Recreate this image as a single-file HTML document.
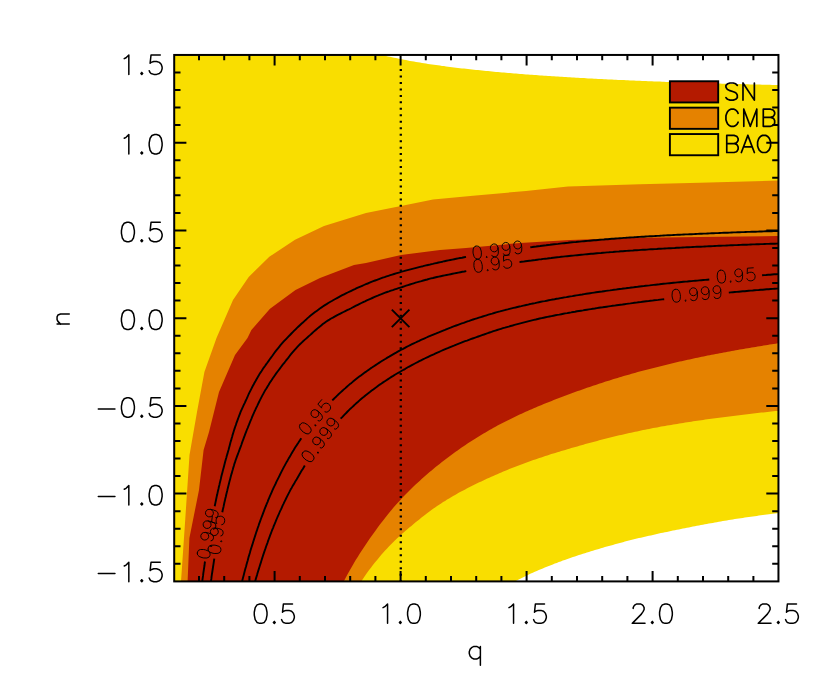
<!DOCTYPE html>
<html><head><meta charset="utf-8"><title>contour</title>
<style>html,body{margin:0;padding:0;background:#fff;font-family:"Liberation Sans",sans-serif}svg{display:block}</style></head><body>
<svg width="830" height="692" viewBox="0 0 830 692">
<rect width="830" height="692" fill="#fff"/>
<defs><clipPath id="c"><rect x="174.20" y="54.95" width="604.25" height="526.45"/></clipPath></defs>
<g clip-path="url(#c)">
<path fill="#f9de00" d="M174.2 55.0 L380.0 54.4 L382.0 54.9 L384.0 55.4 L386.0 55.9 L388.0 56.4 L390.0 56.8 L392.0 57.3 L394.0 57.7 L396.0 58.1 L398.0 58.5 L400.0 58.9 L402.0 59.3 L404.0 59.7 L406.0 60.1 L408.0 60.5 L410.0 60.9 L412.0 61.2 L414.0 61.6 L416.0 61.9 L418.0 62.2 L420.0 62.6 L422.0 62.9 L424.0 63.2 L426.0 63.5 L428.0 63.9 L430.0 64.2 L432.0 64.5 L434.0 64.7 L436.0 65.0 L438.0 65.3 L440.0 65.6 L442.0 65.9 L444.0 66.1 L446.0 66.4 L448.0 66.7 L450.0 66.9 L452.0 67.2 L454.0 67.4 L456.0 67.7 L458.0 67.9 L460.0 68.2 L462.0 68.4 L464.0 68.6 L466.0 68.8 L468.0 69.1 L470.0 69.3 L472.0 69.5 L474.0 69.7 L476.0 69.9 L478.0 70.1 L480.0 70.3 L482.0 70.5 L484.0 70.7 L486.0 70.9 L488.0 71.1 L490.0 71.3 L492.0 71.5 L494.0 71.7 L496.0 71.9 L498.0 72.1 L500.0 72.2 L502.0 72.4 L504.0 72.6 L506.0 72.8 L508.0 72.9 L510.0 73.1 L512.0 73.3 L514.0 73.4 L516.0 73.6 L518.0 73.8 L520.0 73.9 L522.0 74.1 L524.0 74.2 L526.0 74.4 L528.0 74.5 L530.0 74.7 L532.0 74.8 L534.0 75.0 L536.0 75.1 L538.0 75.3 L540.0 75.4 L542.0 75.5 L544.0 75.7 L546.0 75.8 L548.0 75.9 L550.0 76.1 L552.0 76.2 L554.0 76.3 L556.0 76.5 L558.0 76.6 L560.0 76.7 L562.0 76.8 L564.0 77.0 L566.0 77.1 L568.0 77.2 L570.0 77.3 L572.0 77.5 L574.0 77.6 L576.0 77.7 L578.0 77.8 L580.0 77.9 L582.0 78.0 L584.0 78.1 L586.0 78.3 L588.0 78.4 L590.0 78.5 L592.0 78.6 L594.0 78.7 L596.0 78.8 L598.0 78.9 L600.0 79.0 L602.0 79.1 L604.0 79.2 L606.0 79.3 L608.0 79.4 L610.0 79.5 L612.0 79.6 L614.0 79.7 L616.0 79.8 L618.0 79.9 L620.0 80.0 L622.0 80.0 L624.0 80.1 L626.0 80.2 L628.0 80.3 L630.0 80.4 L632.0 80.5 L634.0 80.6 L636.0 80.7 L638.0 80.8 L640.0 80.8 L642.0 80.9 L644.0 81.0 L646.0 81.1 L648.0 81.2 L650.0 81.2 L652.0 81.3 L654.0 81.4 L656.0 81.5 L658.0 81.6 L660.0 81.6 L662.0 81.7 L664.0 81.8 L666.0 81.9 L668.0 81.9 L670.0 82.0 L672.0 82.1 L674.0 82.1 L676.0 82.2 L678.0 82.3 L680.0 82.4 L682.0 82.4 L684.0 82.5 L686.0 82.6 L688.0 82.6 L690.0 82.7 L692.0 82.8 L694.0 82.8 L696.0 82.9 L698.0 82.9 L700.0 83.0 L702.0 83.1 L704.0 83.1 L706.0 83.2 L708.0 83.2 L710.0 83.3 L712.0 83.4 L714.0 83.4 L716.0 83.5 L718.0 83.5 L720.0 83.6 L722.0 83.7 L724.0 83.7 L726.0 83.8 L728.0 83.8 L730.0 83.9 L732.0 83.9 L734.0 84.0 L736.0 84.0 L738.0 84.1 L740.0 84.1 L742.0 84.2 L744.0 84.2 L746.0 84.3 L748.0 84.3 L750.0 84.4 L752.0 84.4 L754.0 84.5 L756.0 84.5 L758.0 84.6 L760.0 84.6 L762.0 84.7 L764.0 84.7 L766.0 84.8 L768.0 84.8 L770.0 84.8 L772.0 84.9 L774.0 84.9 L776.0 85.0 L778.0 85.0 L780.4 85.1 L780.5 512.8 L778.9 513.0 L776.9 513.3 L774.9 513.5 L772.9 513.8 L770.9 514.0 L768.9 514.3 L766.9 514.6 L764.8 514.8 L762.8 515.1 L760.8 515.3 L758.8 515.6 L756.8 515.9 L754.8 516.2 L752.8 516.5 L750.8 516.7 L748.8 517.0 L746.8 517.3 L744.8 517.6 L742.8 517.9 L740.8 518.2 L738.8 518.5 L736.8 518.8 L734.8 519.1 L732.8 519.5 L730.8 519.8 L728.8 520.1 L726.8 520.4 L724.8 520.8 L722.8 521.1 L720.8 521.5 L718.8 521.8 L716.8 522.2 L714.8 522.5 L712.8 522.9 L710.8 523.2 L708.8 523.6 L706.8 524.0 L704.9 524.3 L702.9 524.7 L700.9 525.1 L698.9 525.5 L696.9 525.8 L694.9 526.2 L692.9 526.6 L690.9 527.0 L688.9 527.4 L686.9 527.8 L684.9 528.2 L682.9 528.6 L680.9 529.0 L678.9 529.4 L676.9 529.8 L674.9 530.2 L672.9 530.6 L670.9 531.0 L668.9 531.4 L666.9 531.9 L664.9 532.3 L662.9 532.7 L660.9 533.1 L658.9 533.6 L656.9 534.0 L654.9 534.5 L652.9 534.9 L650.9 535.4 L648.9 535.8 L646.9 536.3 L644.9 536.7 L642.9 537.2 L640.9 537.7 L638.9 538.1 L636.9 538.6 L634.9 539.1 L632.9 539.6 L630.9 540.1 L628.9 540.6 L626.9 541.1 L624.9 541.6 L622.9 542.2 L620.9 542.7 L618.9 543.2 L616.9 543.8 L614.9 544.3 L612.9 544.9 L610.9 545.4 L608.9 546.0 L606.9 546.5 L604.9 547.1 L602.9 547.7 L600.9 548.3 L598.9 548.9 L596.9 549.5 L594.9 550.1 L592.9 550.7 L590.9 551.3 L588.9 551.9 L586.9 552.5 L584.9 553.2 L582.9 553.8 L580.9 554.5 L578.9 555.1 L576.9 555.8 L574.9 556.5 L572.9 557.1 L570.9 557.8 L568.9 558.5 L566.8 559.2 L564.8 559.9 L562.8 560.6 L560.8 561.4 L558.8 562.1 L556.8 562.9 L554.8 563.6 L552.8 564.4 L550.8 565.2 L548.8 565.9 L546.8 566.8 L544.8 567.6 L542.8 568.4 L540.8 569.2 L538.8 570.1 L536.8 570.9 L534.8 571.8 L532.8 572.7 L530.8 573.6 L528.8 574.5 L526.8 575.5 L524.8 576.4 L522.8 577.4 L520.8 578.4 L518.8 579.4 L516.8 580.4 L514.8 581.4 L512.9 582.4 L174.2 581.4Z"/>
<path fill="#e58200" d="M181.0 581.4 L185.2 520.0 L189.5 455.0 L197.0 412.0 L204.4 372.0 L216.5 338.0 L233.0 300.0 L248.7 277.0 L269.3 256.8 L295.0 239.8 L324.0 226.0 L366.0 213.0 L401.0 206.0 L433.0 199.4 L473.0 195.7 L526.0 191.0 L568.0 186.5 L640.0 184.3 L700.0 182.8 L778.5 180.6 L780.5 410.5 L779.3 410.7 L777.3 410.9 L775.3 411.1 L773.3 411.3 L771.3 411.5 L769.3 411.7 L767.3 411.9 L765.3 412.2 L763.3 412.4 L761.3 412.6 L759.3 412.8 L757.3 413.0 L755.3 413.3 L753.3 413.5 L751.3 413.7 L749.3 414.0 L747.3 414.2 L745.3 414.4 L743.2 414.7 L741.2 414.9 L739.2 415.2 L737.2 415.4 L735.2 415.7 L733.2 415.9 L731.2 416.2 L729.2 416.4 L727.2 416.7 L725.2 416.9 L723.2 417.2 L721.2 417.4 L719.2 417.7 L717.2 418.0 L715.2 418.2 L713.2 418.5 L711.2 418.8 L709.2 419.0 L707.2 419.3 L705.2 419.6 L703.2 419.9 L701.2 420.2 L699.2 420.5 L697.2 420.7 L695.2 421.0 L693.2 421.3 L691.2 421.7 L689.2 422.0 L687.2 422.3 L685.2 422.6 L683.2 422.9 L681.2 423.2 L679.2 423.6 L677.2 423.9 L675.2 424.2 L673.2 424.6 L671.2 424.9 L669.2 425.2 L667.1 425.6 L665.1 425.9 L663.1 426.3 L661.1 426.6 L659.1 427.0 L657.1 427.4 L655.1 427.7 L653.1 428.1 L651.1 428.5 L649.1 428.9 L647.1 429.3 L645.1 429.7 L643.1 430.1 L641.1 430.5 L639.1 431.0 L637.1 431.4 L635.1 431.8 L633.1 432.2 L631.1 432.7 L629.2 433.1 L627.2 433.5 L625.2 434.0 L623.2 434.4 L621.2 434.9 L619.2 435.3 L617.2 435.8 L615.2 436.3 L613.2 436.8 L611.2 437.3 L609.2 437.8 L607.2 438.3 L605.2 438.8 L603.2 439.3 L601.2 439.8 L599.2 440.3 L597.2 440.9 L595.2 441.4 L593.3 442.0 L591.3 442.5 L589.3 443.0 L587.3 443.6 L585.3 444.1 L583.3 444.7 L581.3 445.3 L579.3 445.8 L577.3 446.4 L575.3 447.0 L573.3 447.6 L571.3 448.1 L569.3 448.7 L567.3 449.3 L565.3 449.9 L563.3 450.5 L561.3 451.1 L559.3 451.7 L557.3 452.3 L555.3 452.9 L553.3 453.5 L551.3 454.1 L549.3 454.7 L547.3 455.4 L545.3 456.0 L543.3 456.7 L541.3 457.4 L539.3 458.0 L537.3 458.7 L535.3 459.4 L533.3 460.1 L531.3 460.8 L529.3 461.5 L527.3 462.2 L525.3 462.9 L523.3 463.7 L521.3 464.4 L519.3 465.2 L517.3 466.0 L515.3 466.7 L513.3 467.5 L511.3 468.3 L509.3 469.1 L507.3 469.9 L505.3 470.8 L503.3 471.6 L501.3 472.4 L499.3 473.3 L497.3 474.2 L495.3 475.0 L493.3 475.9 L491.3 476.8 L489.3 477.7 L487.3 478.6 L485.3 479.5 L483.3 480.4 L481.3 481.4 L479.3 482.3 L477.2 483.3 L475.2 484.3 L473.2 485.3 L471.2 486.3 L469.2 487.3 L467.2 488.3 L465.2 489.4 L463.2 490.4 L461.1 491.5 L459.1 492.6 L457.1 493.7 L455.1 494.9 L453.1 496.0 L451.1 497.2 L449.1 498.4 L447.1 499.6 L445.1 500.9 L443.1 502.1 L441.1 503.4 L439.1 504.7 L437.1 506.1 L435.1 507.4 L433.1 508.8 L431.1 510.3 L429.1 511.7 L427.1 513.2 L425.2 514.7 L423.2 516.2 L421.2 517.8 L419.3 519.4 L417.3 521.0 L415.3 522.6 L413.3 524.3 L411.4 525.9 L409.3 527.6 L407.3 529.3 L405.3 531.1 L403.3 532.8 L401.2 534.6 L399.2 536.5 L397.2 538.3 L395.1 540.3 L393.1 542.2 L391.1 544.3 L389.1 546.3 L387.1 548.5 L385.1 550.6 L383.1 552.8 L381.1 555.1 L379.1 557.5 L377.1 559.9 L375.1 562.3 L373.1 564.8 L371.1 567.4 L369.1 570.0 L367.1 572.8 L365.2 575.5 L363.2 578.4 L361.2 581.4 L359.2 584.4Z"/>
<path fill="#b41a00" d="M187.6 581.4 L189.4 538.0 L199.0 490.0 L203.6 450.0 L209.0 432.0 L219.0 392.0 L235.0 355.0 L247.5 338.0 L251.4 330.0 L270.0 308.7 L295.5 290.0 L320.0 278.0 L354.0 265.0 L366.0 263.0 L401.0 255.0 L440.0 250.0 L466.0 248.0 L520.0 243.0 L570.0 240.0 L626.0 238.0 L700.0 237.0 L778.5 236.0 L780.5 342.9 L777.6 343.3 L775.6 343.7 L773.6 344.0 L771.6 344.3 L769.6 344.6 L767.6 344.9 L765.6 345.2 L763.6 345.6 L761.6 345.9 L759.6 346.2 L757.6 346.5 L755.6 346.9 L753.6 347.2 L751.6 347.5 L749.6 347.9 L747.6 348.2 L745.6 348.6 L743.6 348.9 L741.6 349.3 L739.6 349.6 L737.6 350.0 L735.6 350.3 L733.6 350.7 L731.6 351.1 L729.6 351.4 L727.6 351.8 L725.6 352.2 L723.6 352.5 L721.6 352.9 L719.6 353.3 L717.6 353.7 L715.6 354.1 L713.6 354.4 L711.6 354.8 L709.6 355.2 L707.6 355.6 L705.6 356.0 L703.6 356.4 L701.6 356.8 L699.6 357.3 L697.6 357.7 L695.6 358.1 L693.6 358.5 L691.6 358.9 L689.6 359.4 L687.6 359.8 L685.6 360.3 L683.6 360.7 L681.6 361.2 L679.6 361.6 L677.6 362.1 L675.6 362.5 L673.6 363.0 L671.6 363.5 L669.6 363.9 L667.6 364.4 L665.6 364.9 L663.6 365.4 L661.6 365.9 L659.6 366.4 L657.6 366.9 L655.6 367.4 L653.6 367.9 L651.6 368.4 L649.6 368.9 L647.6 369.4 L645.6 370.0 L643.6 370.5 L641.6 371.0 L639.6 371.6 L637.6 372.1 L635.6 372.7 L633.6 373.3 L631.6 373.8 L629.6 374.4 L627.6 375.0 L625.6 375.5 L623.6 376.1 L621.6 376.7 L619.6 377.3 L617.6 377.9 L615.6 378.5 L613.6 379.1 L611.6 379.7 L609.6 380.4 L607.6 381.0 L605.7 381.6 L603.7 382.3 L601.7 382.9 L599.7 383.6 L597.7 384.2 L595.7 384.9 L593.7 385.6 L591.7 386.2 L589.7 386.9 L587.7 387.6 L585.7 388.3 L583.7 389.0 L581.7 389.7 L579.7 390.4 L577.7 391.1 L575.7 391.8 L573.7 392.5 L571.7 393.3 L569.7 394.0 L567.7 394.7 L565.7 395.5 L563.7 396.2 L561.7 397.0 L559.7 397.7 L557.7 398.5 L555.7 399.3 L553.7 400.1 L551.7 400.9 L549.7 401.7 L547.7 402.5 L545.7 403.3 L543.7 404.1 L541.7 404.9 L539.7 405.7 L537.7 406.6 L535.7 407.4 L533.7 408.3 L531.7 409.2 L529.6 410.0 L527.6 410.9 L525.6 411.8 L523.6 412.7 L521.6 413.7 L519.6 414.6 L517.6 415.5 L515.6 416.5 L513.6 417.4 L511.6 418.4 L509.6 419.4 L507.5 420.4 L505.5 421.4 L503.5 422.5 L501.5 423.5 L499.5 424.6 L497.5 425.6 L495.5 426.7 L493.5 427.8 L491.5 428.9 L489.5 430.1 L487.5 431.2 L485.5 432.4 L483.5 433.5 L481.5 434.7 L479.5 436.0 L477.5 437.2 L475.5 438.4 L473.5 439.7 L471.5 441.0 L469.5 442.3 L467.5 443.6 L465.5 444.9 L463.6 446.3 L461.6 447.6 L459.6 449.0 L457.6 450.4 L455.6 451.8 L453.6 453.3 L451.6 454.7 L449.6 456.2 L447.6 457.7 L445.6 459.2 L443.6 460.8 L441.6 462.3 L439.6 463.9 L437.6 465.5 L435.6 467.1 L433.6 468.7 L431.6 470.4 L429.6 472.1 L427.6 473.8 L425.6 475.5 L423.6 477.3 L421.6 479.1 L419.6 480.9 L417.6 482.7 L415.6 484.6 L413.5 486.5 L411.5 488.5 L409.5 490.4 L407.5 492.5 L405.5 494.5 L403.5 496.6 L401.5 498.7 L399.5 500.9 L397.5 503.1 L395.5 505.3 L393.5 507.6 L391.5 509.9 L389.6 512.3 L387.6 514.7 L385.6 517.2 L383.7 519.7 L381.7 522.2 L379.7 524.8 L377.7 527.5 L375.8 530.2 L373.8 532.9 L371.8 535.7 L369.8 538.6 L367.8 541.5 L365.8 544.4 L363.8 547.4 L361.8 550.5 L359.8 553.6 L357.7 556.9 L355.7 560.1 L353.7 563.5 L351.7 566.9 L349.7 570.4 L347.7 574.0 L345.7 577.7 L343.7 581.4 L341.6 585.3Z"/>
<g fill="none" stroke="#000" stroke-width="1.9" stroke-linejoin="round">
<path d="M200.8 593.2 L201.0 591.2 L201.3 589.2 L201.5 587.3 L201.8 585.3 L202.0 583.3 L202.3 581.3 L202.5 579.3 L202.8 577.3 L203.1 575.4 L203.3 573.4 L203.6 571.4 L203.9 569.4 L204.2 567.4 L204.5 565.5 L204.7 563.5 L205.0 561.5"/>
<path d="M214.7 506.3 L215.1 504.4 L215.5 502.4 L215.9 500.5 L216.3 498.5 L216.7 496.6 L217.2 494.6 L217.6 492.6 L218.0 490.7 L218.5 488.7 L218.9 486.8 L219.4 484.9 L219.8 482.9 L220.3 481.0 L220.8 479.0 L221.2 477.1 L221.7 475.1 L222.2 473.2 L222.7 471.3 L223.2 469.3 L223.7 467.4 L224.2 465.4 L224.7 463.5 L225.2 461.6 L225.7 459.7 L226.3 457.7 L226.8 455.8 L227.4 453.9 L227.9 452.0 L228.5 450.0 L229.0 448.1 L229.5 446.2 L230.0 444.2 L230.5 442.3 L231.1 440.4 L231.6 438.5 L232.2 436.5 L232.7 434.6 L233.3 432.7 L233.9 430.8 L234.5 428.9 L235.1 427.0 L235.8 425.1 L236.4 423.2 L237.1 421.3 L237.8 419.4 L238.5 417.5 L239.2 415.7 L239.9 413.8 L240.6 411.9 L241.4 410.1 L242.2 408.3 L243.1 406.4 L243.9 404.6 L244.8 402.8 L245.6 401.0 L246.5 399.2 L247.3 397.4 L248.1 395.5 L248.9 393.7 L249.8 391.9 L250.7 390.1 L251.6 388.3 L252.5 386.5 L253.5 384.8 L254.4 383.0 L255.4 381.3 L256.4 379.5 L257.4 377.8 L258.4 376.1 L259.4 374.3 L260.5 372.6 L261.6 371.0 L262.7 369.3 L263.8 367.6 L265.0 366.0 L266.1 364.4 L267.3 362.8 L268.5 361.1 L269.6 359.5 L270.8 357.9 L272.0 356.3 L273.1 354.7 L274.3 353.0 L275.5 351.4 L276.7 349.9 L278.0 348.3 L279.2 346.8 L280.5 345.2 L281.8 343.7 L283.1 342.2 L284.5 340.7 L285.8 339.3 L287.2 337.8 L288.6 336.4 L290.0 335.0 L291.4 333.5 L292.8 332.1 L294.2 330.7 L295.6 329.3 L297.0 327.9 L298.5 326.5 L299.9 325.2 L301.4 323.8 L302.9 322.5 L304.4 321.1 L305.9 319.8 L307.3 318.4 L308.8 317.1 L310.3 315.8 L311.9 314.5 L313.5 313.3 L315.1 312.1 L316.7 310.9 L318.3 309.7 L319.9 308.5 L321.6 307.4 L323.2 306.3 L324.9 305.1 L326.6 304.1 L328.3 303.0 L330.0 302.0 L331.8 301.0 L333.5 300.0 L335.3 299.0 L337.0 298.1 L338.8 297.1 L340.5 296.2 L342.3 295.2 L344.1 294.3 L345.9 293.4 L347.7 292.5 L349.5 291.7 L351.3 290.8 L353.1 289.9 L354.9 289.1 L356.7 288.2 L358.5 287.4 L360.4 286.6 L362.2 285.8 L364.0 285.0 L365.9 284.2 L367.7 283.5 L369.6 282.7 L371.4 281.9 L373.3 281.2 L375.1 280.5 L377.0 279.8 L378.9 279.1 L380.8 278.4 L382.7 277.7 L384.6 277.1 L386.5 276.4 L388.4 275.8 L390.3 275.2 L392.2 274.6 L394.1 274.0 L396.0 273.4 L397.9 272.8 L399.8 272.3 L401.7 271.7 L403.7 271.2 L405.6 270.6 L407.5 270.1 L409.5 269.6 L411.4 269.1 L413.3 268.6 L415.3 268.1 L417.2 267.6 L419.1 267.1 L421.1 266.6 L423.0 266.2 L425.0 265.7 L426.9 265.2 L428.9 264.8 L430.8 264.3 L432.8 263.9 L434.7 263.4 L436.7 263.0 L438.6 262.5 L440.6 262.1 L442.5 261.7 L444.5 261.2 L446.4 260.8 L448.4 260.4 L450.3 260.0 L452.3 259.6 L454.2 259.2 L456.2 258.8 L458.2 258.4 L460.1 258.0 L462.1 257.7 L464.1 257.3 L466.0 256.9"/>
<path d="M530.3 247.2 L532.3 247.0 L534.2 246.7 L536.2 246.5 L538.2 246.2 L540.2 246.0 L542.2 245.7 L544.2 245.5 L546.1 245.3 L548.1 245.0 L550.1 244.8 L552.1 244.5 L554.1 244.3 L556.1 244.1 L558.1 243.9 L560.1 243.6 L562.0 243.4 L564.0 243.2 L566.0 243.0 L568.0 242.8 L570.0 242.5 L572.0 242.3 L574.0 242.1 L576.0 242.0 L578.0 241.8 L579.9 241.6 L581.9 241.4 L583.9 241.2 L585.9 241.0 L587.9 240.9 L589.9 240.7 L591.9 240.5 L593.9 240.3 L595.9 240.2 L597.9 240.0 L599.9 239.8 L601.9 239.6 L603.9 239.5 L605.9 239.3 L607.8 239.2 L609.8 239.0 L611.8 238.8 L613.8 238.7 L615.8 238.5 L617.8 238.4 L619.8 238.2 L621.8 238.1 L623.8 237.9 L625.8 237.8 L627.8 237.6 L629.8 237.5 L631.8 237.4 L633.8 237.3 L635.8 237.1 L637.8 237.0 L639.8 236.9 L641.8 236.8 L643.8 236.7 L645.8 236.5 L647.8 236.4 L649.8 236.3 L651.8 236.2 L653.8 236.1 L655.7 236.0 L657.7 235.9 L659.7 235.8 L661.7 235.6 L663.7 235.5 L665.7 235.4 L667.7 235.3 L669.7 235.2 L671.7 235.1 L673.7 235.0 L675.7 234.9 L677.7 234.8 L679.7 234.7 L681.7 234.6 L683.7 234.5 L685.7 234.4 L687.7 234.4 L689.7 234.3 L691.7 234.2 L693.7 234.1 L695.7 234.0 L697.7 233.9 L699.7 233.8 L701.7 233.7 L703.7 233.6 L705.7 233.6 L707.7 233.5 L709.7 233.4 L711.7 233.3 L713.7 233.2 L715.7 233.1 L717.7 233.1 L719.7 233.0 L721.7 232.9 L723.7 232.8 L725.7 232.7 L727.7 232.7 L729.7 232.6 L731.7 232.5 L733.7 232.4 L735.7 232.4 L737.7 232.3 L739.7 232.2 L741.7 232.1 L743.7 232.1 L745.7 232.0 L747.7 231.9 L749.7 231.9 L751.7 231.8 L753.7 231.7 L755.7 231.7 L757.7 231.6 L759.7 231.5 L761.7 231.5 L763.7 231.4 L765.7 231.3 L767.7 231.3 L769.6 231.2 L771.6 231.2 L773.6 231.1 L775.6 231.0 L777.6 231.0 L779.6 230.9"/>
<path d="M209.5 592.3 L209.7 590.3 L210.0 588.3 L210.3 586.3 L210.5 584.3 L210.8 582.4 L211.1 580.4 L211.4 578.4 L211.6 576.4 L211.9 574.4 L212.2 572.5 L212.5 570.5 L212.8 568.5 L213.1 566.5 L213.4 564.6 L213.7 562.6 L214.0 560.6 L214.3 558.6"/>
<path d="M222.3 512.3 L222.7 510.3 L223.1 508.4 L223.6 506.4 L224.0 504.5 L224.4 502.5 L224.9 500.6 L225.3 498.6 L225.8 496.7 L226.2 494.7 L226.7 492.8 L227.2 490.8 L227.6 488.9 L228.1 486.9 L228.6 485.0 L229.1 483.1 L229.6 481.1 L230.1 479.2 L230.6 477.3 L231.1 475.3 L231.7 473.4 L232.2 471.5 L232.8 469.5 L233.3 467.6 L233.9 465.7 L234.4 463.8 L235.1 461.9 L235.7 460.0 L236.4 458.1 L237.1 456.2 L237.8 454.3 L238.5 452.5 L239.2 450.6 L239.9 448.7 L240.6 446.8 L241.3 445.0 L241.9 443.1 L242.6 441.2 L243.3 439.3 L244.0 437.4 L244.7 435.6 L245.4 433.7 L246.1 431.8 L246.8 430.0 L247.6 428.1 L248.3 426.3 L249.1 424.4 L249.8 422.6 L250.6 420.7 L251.4 418.9 L252.1 417.0 L252.9 415.2 L253.7 413.4 L254.5 411.5 L255.4 409.7 L256.2 407.9 L257.1 406.1 L257.9 404.3 L258.8 402.5 L259.7 400.7 L260.6 398.9 L261.5 397.1 L262.4 395.4 L263.4 393.6 L264.3 391.9 L265.3 390.1 L266.4 388.4 L267.4 386.7 L268.5 385.0 L269.5 383.3 L270.6 381.6 L271.7 380.0 L272.8 378.3 L273.9 376.7 L275.1 375.0 L276.2 373.4 L277.4 371.8 L278.6 370.2 L279.8 368.6 L281.0 367.0 L282.2 365.4 L283.4 363.8 L284.7 362.3 L285.9 360.7 L287.2 359.1 L288.4 357.6 L289.6 356.0 L290.8 354.4 L292.1 352.8 L293.4 351.3 L294.7 349.8 L296.1 348.3 L297.4 346.9 L298.8 345.4 L300.2 344.0 L301.7 342.6 L303.1 341.3 L304.6 339.9 L306.1 338.6 L307.6 337.3 L309.1 335.9 L310.6 334.6 L312.1 333.2 L313.5 331.9 L315.1 330.5 L316.6 329.2 L318.1 327.9 L319.6 326.7 L321.2 325.4 L322.8 324.1 L324.4 322.9 L326.0 321.7 L327.7 320.6 L329.4 319.6 L331.1 318.5 L332.9 317.6 L334.6 316.6 L336.4 315.6 L338.2 314.7 L339.9 313.8 L341.7 312.9 L343.5 312.0 L345.3 311.1 L347.1 310.2 L348.9 309.4 L350.7 308.5 L352.5 307.5 L354.2 306.6 L356.0 305.7 L357.8 304.8 L359.6 303.9 L361.4 303.0 L363.2 302.1 L365.0 301.3 L366.8 300.4 L368.6 299.6 L370.4 298.8 L372.3 298.0 L374.1 297.2 L375.9 296.4 L377.8 295.7 L379.6 294.9 L381.5 294.2 L383.4 293.4 L385.2 292.7 L387.1 292.0 L389.0 291.4 L390.9 290.7 L392.8 290.1 L394.7 289.4 L396.6 288.8 L398.5 288.2 L400.4 287.6 L402.3 287.0 L404.2 286.3 L406.1 285.7 L408.0 285.1 L409.9 284.5 L411.8 283.9 L413.7 283.3 L415.6 282.7 L417.5 282.2 L419.4 281.6 L421.4 281.1 L423.3 280.5 L425.2 280.0 L427.2 279.5 L429.1 278.9 L431.0 278.4 L433.0 278.0 L434.9 277.5 L436.9 277.0 L438.8 276.6 L440.8 276.2 L442.7 275.8 L444.7 275.4 L446.6 275.0 L448.6 274.6 L450.6 274.2 L452.5 273.8 L454.5 273.4 L456.4 273.0 L458.4 272.6 L460.4 272.2 L462.3 271.8 L464.3 271.5 L466.3 271.1"/>
<path d="M519.5 262.1 L521.5 261.8 L523.5 261.6 L525.4 261.3 L527.4 261.0 L529.4 260.7 L531.4 260.5 L533.4 260.2 L535.3 260.0 L537.3 259.7 L539.3 259.4 L541.3 259.2 L543.3 258.9 L545.3 258.7 L547.3 258.5 L549.2 258.2 L551.2 258.0 L553.2 257.7 L555.2 257.5 L557.2 257.3 L559.2 257.1 L561.2 256.8 L563.1 256.6 L565.1 256.4 L567.1 256.2 L569.1 256.0 L571.1 255.8 L573.1 255.6 L575.1 255.4 L577.1 255.2 L579.1 255.0 L581.1 254.8 L583.0 254.6 L585.0 254.4 L587.0 254.2 L589.0 254.0 L591.0 253.8 L593.0 253.7 L595.0 253.5 L597.0 253.3 L599.0 253.1 L601.0 253.0 L603.0 252.8 L605.0 252.6 L607.0 252.4 L608.9 252.3 L610.9 252.1 L612.9 252.0 L614.9 251.8 L616.9 251.6 L618.9 251.5 L620.9 251.3 L622.9 251.2 L624.9 251.0 L626.9 250.9 L628.9 250.7 L630.9 250.6 L632.9 250.5 L634.9 250.3 L636.9 250.2 L638.9 250.1 L640.9 249.9 L642.9 249.8 L644.9 249.7 L646.9 249.6 L648.9 249.4 L650.8 249.3 L652.8 249.2 L654.8 249.1 L656.8 249.0 L658.8 248.8 L660.8 248.7 L662.8 248.6 L664.8 248.5 L666.8 248.4 L668.8 248.3 L670.8 248.2 L672.8 248.1 L674.8 248.0 L676.8 247.8 L678.8 247.7 L680.8 247.6 L682.8 247.5 L684.8 247.4 L686.8 247.3 L688.8 247.2 L690.8 247.1 L692.8 247.0 L694.8 246.9 L696.8 246.8 L698.8 246.8 L700.8 246.7 L702.8 246.6 L704.8 246.5 L706.8 246.4 L708.8 246.3 L710.8 246.2 L712.8 246.1 L714.8 246.0 L716.8 245.9 L718.8 245.8 L720.8 245.7 L722.8 245.6 L724.8 245.6 L726.8 245.5 L728.8 245.4 L730.7 245.3 L732.7 245.2 L734.7 245.1 L736.7 245.1 L738.7 245.0 L740.7 244.9 L742.7 244.8 L744.7 244.7 L746.7 244.7 L748.7 244.6 L750.7 244.5 L752.7 244.4 L754.7 244.4 L756.7 244.3 L758.7 244.2 L760.7 244.1 L762.7 244.1 L764.7 244.0 L766.7 243.9 L768.7 243.9 L770.7 243.8 L772.7 243.7 L774.7 243.7 L776.7 243.6 L778.7 243.5"/>
<path d="M240.6 587.5 L241.1 585.6 L241.6 583.7 L242.1 581.7 L242.5 579.8 L243.0 577.8 L243.5 575.9 L244.0 574.0 L244.5 572.0 L245.0 570.1 L245.5 568.2 L246.1 566.2 L246.6 564.3 L247.1 562.4 L247.7 560.4 L248.2 558.5 L248.7 556.6 L249.3 554.7 L249.9 552.7 L250.4 550.8 L251.0 548.9 L251.6 547.0 L252.2 545.1 L252.8 543.2 L253.4 541.3 L254.0 539.4 L254.6 537.5 L255.2 535.6 L255.8 533.7 L256.4 531.8 L257.1 529.9 L257.7 528.0 L258.4 526.1 L259.0 524.2 L259.7 522.3 L260.4 520.4 L261.1 518.5 L261.8 516.7 L262.5 514.8 L263.2 512.9 L263.9 511.1 L264.6 509.2 L265.3 507.3 L266.1 505.5 L266.8 503.6 L267.6 501.8 L268.3 499.9 L269.1 498.1 L269.9 496.2 L270.7 494.4 L271.5 492.6 L272.3 490.7 L273.1 488.9 L273.9 487.1 L274.8 485.3 L275.7 483.5 L276.5 481.7 L277.4 479.9 L278.3 478.1 L279.2 476.3 L280.1 474.5 L281.0 472.7 L281.9 470.9 L282.8 469.1 L283.7 467.4 L284.7 465.6 L285.6 463.9 L286.6 462.1 L287.6 460.4 L288.6 458.6 L289.6 456.9 L290.6 455.2 L291.6 453.4 L292.6 451.7 L293.7 450.0 L294.7 448.3 L295.8 446.6 L296.9 444.9 L298.0 443.3 L299.1 441.6 L300.2 439.9 L301.3 438.3"/>
<path d="M332.3 400.4 L333.7 399.0 L335.1 397.6 L336.6 396.2 L338.0 394.8 L339.5 393.4 L340.9 392.1 L342.4 390.7 L343.9 389.4 L345.4 388.1 L346.9 386.7 L348.4 385.4 L349.9 384.1 L351.5 382.9 L353.0 381.6 L354.6 380.3 L356.1 379.1 L357.7 377.8 L359.3 376.6 L360.9 375.4 L362.5 374.2 L364.1 373.0 L365.7 371.9 L367.3 370.7 L369.0 369.6 L370.6 368.4 L372.3 367.3 L373.9 366.2 L375.6 365.1 L377.3 364.0 L379.0 362.9 L380.7 361.8 L382.3 360.8 L384.0 359.7 L385.7 358.7 L387.4 357.6 L389.2 356.6 L390.9 355.6 L392.6 354.6 L394.3 353.6 L396.1 352.6 L397.8 351.6 L399.6 350.6 L401.3 349.7 L403.1 348.8 L404.9 347.8 L406.6 346.9 L408.4 346.0 L410.2 345.1 L412.0 344.2 L413.8 343.3 L415.6 342.5 L417.4 341.6 L419.2 340.8 L421.0 339.9 L422.9 339.1 L424.7 338.3 L426.5 337.5 L428.3 336.7 L430.2 335.9 L432.0 335.1 L433.9 334.3 L435.7 333.6 L437.6 332.8 L439.4 332.1 L441.3 331.3 L443.1 330.6 L445.0 329.9 L446.8 329.1 L448.7 328.4 L450.6 327.7 L452.4 326.9 L454.3 326.2 L456.2 325.5 L458.0 324.8 L459.9 324.1 L461.8 323.4 L463.7 322.8 L465.6 322.1 L467.5 321.4 L469.3 320.8 L471.2 320.1 L473.1 319.5 L475.0 318.9 L476.9 318.3 L478.9 317.7 L480.8 317.1 L482.7 316.5 L484.6 315.9 L486.5 315.3 L488.4 314.7 L490.3 314.1 L492.2 313.6 L494.2 313.0 L496.1 312.4 L498.0 311.9 L499.9 311.4 L501.9 310.8 L503.8 310.3 L505.8 309.8 L507.7 309.4 L509.6 308.9 L511.6 308.4 L513.5 307.9 L515.5 307.5 L517.4 307.0 L519.4 306.5 L521.3 306.1 L523.3 305.6 L525.2 305.2 L527.2 304.8 L529.1 304.3 L531.1 303.9 L533.0 303.5 L535.0 303.1 L537.0 302.6 L538.9 302.2 L540.9 301.8 L542.8 301.4 L544.8 301.1 L546.8 300.7 L548.7 300.3 L550.7 299.9 L552.7 299.5 L554.6 299.2 L556.6 298.8 L558.6 298.5 L560.5 298.1 L562.5 297.8 L564.5 297.4 L566.4 297.1 L568.4 296.7 L570.4 296.4 L572.4 296.1 L574.3 295.7 L576.3 295.4 L578.3 295.1 L580.2 294.8 L582.2 294.5 L584.2 294.1 L586.2 293.8 L588.2 293.5 L590.1 293.2 L592.1 292.9 L594.1 292.6 L596.1 292.3 L598.0 292.0 L600.0 291.7 L602.0 291.5 L604.0 291.2 L606.0 290.9 L607.9 290.6 L609.9 290.4 L611.9 290.1 L613.9 289.8 L615.9 289.6 L617.8 289.3 L619.8 289.0 L621.8 288.8 L623.8 288.5 L625.8 288.3 L627.8 288.0 L629.7 287.8 L631.7 287.5 L633.7 287.3 L635.7 287.0 L637.7 286.8 L639.7 286.5 L641.7 286.3 L643.6 286.1 L645.6 285.8 L647.6 285.6 L649.6 285.4 L651.6 285.1 L653.6 284.9 L655.6 284.7 L657.5 284.5 L659.5 284.3 L661.5 284.0 L663.5 283.8 L665.5 283.6 L667.5 283.4 L669.5 283.2 L671.5 283.0 L673.5 282.8 L675.4 282.6 L677.4 282.4 L679.4 282.2 L681.4 282.0 L683.4 281.8 L685.4 281.6 L687.4 281.5 L689.4 281.3 L691.4 281.1 L693.4 280.9 L695.4 280.7 L697.3 280.6 L699.3 280.4 L701.3 280.2 L703.3 280.0 L705.3 279.9 L707.3 279.7 L709.3 279.5"/>
<path d="M762.1 275.3 L764.1 275.1 L766.1 275.0 L768.1 274.8 L770.1 274.7 L772.1 274.5 L774.1 274.3 L776.1 274.2 L778.1 274.1 L780.1 273.9"/>
<path d="M253.6 586.6 L254.2 584.7 L254.7 582.8 L255.3 580.9 L255.8 578.9 L256.4 577.0 L257.0 575.1 L257.5 573.2 L258.1 571.3 L258.7 569.4 L259.3 567.4 L259.9 565.5 L260.5 563.6 L261.1 561.7 L261.7 559.8 L262.3 557.9 L262.9 556.0 L263.5 554.1 L264.2 552.2 L264.8 550.3 L265.5 548.4 L266.1 546.5 L266.8 544.6 L267.5 542.8 L268.1 540.9 L268.8 539.0 L269.5 537.1 L270.2 535.2 L270.9 533.4 L271.6 531.5 L272.3 529.6 L273.1 527.8 L273.8 525.9 L274.6 524.1 L275.4 522.2 L276.1 520.4 L276.9 518.5 L277.7 516.7 L278.5 514.9 L279.3 513.0 L280.1 511.2 L281.0 509.4 L281.8 507.6 L282.6 505.7 L283.5 503.9 L284.3 502.1 L285.2 500.3 L286.1 498.5 L287.0 496.7 L287.9 494.9 L288.8 493.1 L289.7 491.4 L290.6 489.6 L291.6 487.9 L292.6 486.1 L293.6 484.4 L294.6 482.7 L295.6 480.9 L296.7 479.2 L297.7 477.5 L298.7 475.8 L299.7 474.1 L300.7 472.3 L301.7 470.6 L302.8 468.9 L303.8 467.2 L304.8 465.5"/>
<path d="M340.6 418.7 L342.0 417.3 L343.4 415.8 L344.8 414.4 L346.2 413.0 L347.6 411.5 L349.0 410.1 L350.4 408.7 L351.9 407.4 L353.4 406.0 L354.8 404.6 L356.3 403.3 L357.8 402.0 L359.3 400.6 L360.8 399.3 L362.3 398.0 L363.9 396.8 L365.4 395.5 L367.0 394.2 L368.6 393.0 L370.2 391.8 L371.7 390.6 L373.3 389.4 L374.9 388.2 L376.6 387.0 L378.2 385.8 L379.8 384.6 L381.5 383.5 L383.1 382.4 L384.8 381.3 L386.4 380.2 L388.1 379.1 L389.8 378.0 L391.5 376.9 L393.2 375.9 L394.9 374.8 L396.6 373.8 L398.3 372.8 L400.1 371.8 L401.8 370.8 L403.5 369.8 L405.3 368.8 L407.0 367.8 L408.7 366.8 L410.5 365.9 L412.3 364.9 L414.0 364.0 L415.8 363.0 L417.6 362.1 L419.3 361.2 L421.1 360.3 L422.9 359.4 L424.7 358.5 L426.5 357.7 L428.3 356.8 L430.1 355.9 L431.9 355.1 L433.7 354.3 L435.6 353.4 L437.4 352.6 L439.2 351.8 L441.0 351.0 L442.9 350.2 L444.7 349.4 L446.5 348.6 L448.4 347.9 L450.2 347.1 L452.1 346.3 L453.9 345.6 L455.8 344.8 L457.6 344.1 L459.5 343.4 L461.4 342.7 L463.2 341.9 L465.1 341.2 L467.0 340.6 L468.9 339.9 L470.7 339.2 L472.6 338.5 L474.5 337.8 L476.4 337.2 L478.3 336.5 L480.1 335.8 L482.0 335.1 L483.9 334.5 L485.8 333.8 L487.7 333.2 L489.6 332.5 L491.5 331.9 L493.4 331.2 L495.3 330.6 L497.2 330.0 L499.1 329.4 L501.0 328.8 L502.9 328.2 L504.9 327.7 L506.8 327.1 L508.7 326.6 L510.6 326.0 L512.6 325.5 L514.5 324.9 L516.4 324.4 L518.4 323.9 L520.3 323.4 L522.2 322.9 L524.2 322.4 L526.1 321.9 L528.0 321.4 L530.0 320.9 L531.9 320.4 L533.9 319.9 L535.8 319.5 L537.8 319.0 L539.7 318.5 L541.7 318.1 L543.6 317.7 L545.6 317.3 L547.5 316.9 L549.5 316.5 L551.5 316.1 L553.4 315.7 L555.4 315.3 L557.4 314.9 L559.3 314.6 L561.3 314.2 L563.3 313.8 L565.2 313.4 L567.2 313.1 L569.2 312.7 L571.1 312.4 L573.1 312.0 L575.1 311.7 L577.0 311.3 L579.0 311.0 L581.0 310.7 L583.0 310.4 L584.9 310.0 L586.9 309.7 L588.9 309.4 L590.9 309.1 L592.8 308.8 L594.8 308.5 L596.8 308.1 L598.8 307.8 L600.7 307.5 L602.7 307.3 L604.7 307.0 L606.7 306.7 L608.7 306.4 L610.6 306.1 L612.6 305.8 L614.6 305.6 L616.6 305.3 L618.6 305.0 L620.5 304.7 L622.5 304.5 L624.5 304.2 L626.5 303.9 L628.5 303.6 L630.4 303.4 L632.4 303.1 L634.4 302.8 L636.4 302.6 L638.4 302.3 L640.4 302.1 L642.3 301.8 L644.3 301.5 L646.3 301.3 L648.3 301.1 L650.3 300.8 L652.3 300.6 L654.2 300.3 L656.2 300.1 L658.2 299.9 L660.2 299.6 L662.2 299.4 L664.2 299.2"/>
<path d="M728.8 292.6 L730.8 292.4 L732.8 292.2 L734.8 292.0 L736.8 291.9 L738.8 291.7 L740.8 291.5 L742.8 291.3 L744.8 291.2 L746.8 291.0 L748.8 290.8 L750.7 290.6 L752.7 290.5 L754.7 290.3 L756.7 290.1 L758.7 290.0 L760.7 289.8 L762.7 289.7 L764.7 289.5 L766.7 289.3 L768.7 289.2 L770.7 289.0 L772.7 288.9 L774.7 288.7 L776.7 288.6 L778.7 288.4"/>
</g>
</g>
<g fill="none" stroke="#000" stroke-width="0.9" stroke-linecap="round" stroke-linejoin="round">
<path transform="translate(207.8 533.5) rotate(-78.6)" d="M-21.24 -6.41 L-23.01 -5.79 L-24.19 -3.96 L-24.78 -0.92 L-24.78 0.92 L-24.19 3.97 L-23.01 5.79 L-21.24 6.41 L-20.06 6.41 L-18.29 5.79 L-17.11 3.97 L-16.52 0.92 L-16.52 -0.92 L-17.11 -3.96 L-18.29 -5.79 L-20.06 -6.41 L-21.24 -6.41 M-11.80 5.19 L-12.39 5.79 L-11.80 6.41 L-11.21 5.79 L-11.80 5.19 M0.59 -2.13 L0.00 -0.30 L-1.18 0.92 L-2.95 1.53 L-3.54 1.53 L-5.31 0.92 L-6.49 -0.30 L-7.08 -2.13 L-7.08 -2.75 L-6.49 -4.58 L-5.31 -5.79 L-3.54 -6.41 L-2.95 -6.41 L-1.18 -5.79 L0.00 -4.58 L0.59 -2.13 L0.59 0.92 L0.00 3.97 L-1.18 5.79 L-2.95 6.41 L-4.13 6.41 L-5.90 5.79 L-6.49 4.58 M12.39 -2.13 L11.80 -0.30 L10.62 0.92 L8.85 1.53 L8.26 1.53 L6.49 0.92 L5.31 -0.30 L4.72 -2.13 L4.72 -2.75 L5.31 -4.58 L6.49 -5.79 L8.26 -6.41 L8.85 -6.41 L10.62 -5.79 L11.80 -4.58 L12.39 -2.13 L12.39 0.92 L11.80 3.97 L10.62 5.79 L8.85 6.41 L7.67 6.41 L5.90 5.79 L5.31 4.58 M24.19 -2.13 L23.60 -0.30 L22.42 0.92 L20.65 1.53 L20.06 1.53 L18.29 0.92 L17.11 -0.30 L16.52 -2.13 L16.52 -2.75 L17.11 -4.58 L18.29 -5.79 L20.06 -6.41 L20.65 -6.41 L22.42 -5.79 L23.60 -4.58 L24.19 -2.13 L24.19 0.92 L23.60 3.97 L22.42 5.79 L20.65 6.41 L19.47 6.41 L17.70 5.79 L17.11 4.58"/>
<path transform="translate(497.7 249.9) rotate(-7.1)" d="M-21.24 -6.41 L-23.01 -5.79 L-24.19 -3.96 L-24.78 -0.92 L-24.78 0.92 L-24.19 3.97 L-23.01 5.79 L-21.24 6.41 L-20.06 6.41 L-18.29 5.79 L-17.11 3.97 L-16.52 0.92 L-16.52 -0.92 L-17.11 -3.96 L-18.29 -5.79 L-20.06 -6.41 L-21.24 -6.41 M-11.80 5.19 L-12.39 5.79 L-11.80 6.41 L-11.21 5.79 L-11.80 5.19 M0.59 -2.13 L0.00 -0.30 L-1.18 0.92 L-2.95 1.53 L-3.54 1.53 L-5.31 0.92 L-6.49 -0.30 L-7.08 -2.13 L-7.08 -2.75 L-6.49 -4.58 L-5.31 -5.79 L-3.54 -6.41 L-2.95 -6.41 L-1.18 -5.79 L0.00 -4.58 L0.59 -2.13 L0.59 0.92 L0.00 3.97 L-1.18 5.79 L-2.95 6.41 L-4.13 6.41 L-5.90 5.79 L-6.49 4.58 M12.39 -2.13 L11.80 -0.30 L10.62 0.92 L8.85 1.53 L8.26 1.53 L6.49 0.92 L5.31 -0.30 L4.72 -2.13 L4.72 -2.75 L5.31 -4.58 L6.49 -5.79 L8.26 -6.41 L8.85 -6.41 L10.62 -5.79 L11.80 -4.58 L12.39 -2.13 L12.39 0.92 L11.80 3.97 L10.62 5.79 L8.85 6.41 L7.67 6.41 L5.90 5.79 L5.31 4.58 M24.19 -2.13 L23.60 -0.30 L22.42 0.92 L20.65 1.53 L20.06 1.53 L18.29 0.92 L17.11 -0.30 L16.52 -2.13 L16.52 -2.75 L17.11 -4.58 L18.29 -5.79 L20.06 -6.41 L20.65 -6.41 L22.42 -5.79 L23.60 -4.58 L24.19 -2.13 L24.19 0.92 L23.60 3.97 L22.42 5.79 L20.65 6.41 L19.47 6.41 L17.70 5.79 L17.11 4.58"/>
<path transform="translate(216.4 534.7) rotate(-82.6)" d="M-15.34 -6.41 L-17.11 -5.79 L-18.29 -3.96 L-18.88 -0.92 L-18.88 0.92 L-18.29 3.97 L-17.11 5.79 L-15.34 6.41 L-14.16 6.41 L-12.39 5.79 L-11.21 3.97 L-10.62 0.92 L-10.62 -0.92 L-11.21 -3.96 L-12.39 -5.79 L-14.16 -6.41 L-15.34 -6.41 M-5.90 5.19 L-6.49 5.79 L-5.90 6.41 L-5.31 5.79 L-5.90 5.19 M6.49 -2.13 L5.90 -0.30 L4.72 0.92 L2.95 1.53 L2.36 1.53 L0.59 0.92 L-0.59 -0.30 L-1.18 -2.13 L-1.18 -2.75 L-0.59 -4.58 L0.59 -5.79 L2.36 -6.41 L2.95 -6.41 L4.72 -5.79 L5.90 -4.58 L6.49 -2.13 L6.49 0.92 L5.90 3.97 L4.72 5.79 L2.95 6.41 L1.77 6.41 L-0.00 5.79 L-0.59 4.58 M17.70 -6.41 L11.80 -6.41 L11.21 -0.92 L11.80 -1.52 L13.57 -2.13 L15.34 -2.13 L17.11 -1.52 L18.29 -0.30 L18.88 1.53 L18.88 2.75 L18.29 4.58 L17.11 5.79 L15.34 6.41 L13.57 6.41 L11.80 5.79 L11.21 5.19 L10.62 3.97"/>
<path transform="translate(492.7 263.8) rotate(-8.0)" d="M-15.34 -6.41 L-17.11 -5.79 L-18.29 -3.96 L-18.88 -0.92 L-18.88 0.92 L-18.29 3.97 L-17.11 5.79 L-15.34 6.41 L-14.16 6.41 L-12.39 5.79 L-11.21 3.97 L-10.62 0.92 L-10.62 -0.92 L-11.21 -3.96 L-12.39 -5.79 L-14.16 -6.41 L-15.34 -6.41 M-5.90 5.19 L-6.49 5.79 L-5.90 6.41 L-5.31 5.79 L-5.90 5.19 M6.49 -2.13 L5.90 -0.30 L4.72 0.92 L2.95 1.53 L2.36 1.53 L0.59 0.92 L-0.59 -0.30 L-1.18 -2.13 L-1.18 -2.75 L-0.59 -4.58 L0.59 -5.79 L2.36 -6.41 L2.95 -6.41 L4.72 -5.79 L5.90 -4.58 L6.49 -2.13 L6.49 0.92 L5.90 3.97 L4.72 5.79 L2.95 6.41 L1.77 6.41 L-0.00 5.79 L-0.59 4.58 M17.70 -6.41 L11.80 -6.41 L11.21 -0.92 L11.80 -1.52 L13.57 -2.13 L15.34 -2.13 L17.11 -1.52 L18.29 -0.30 L18.88 1.53 L18.88 2.75 L18.29 4.58 L17.11 5.79 L15.34 6.41 L13.57 6.41 L11.80 5.79 L11.21 5.19 L10.62 3.97"/>
<path transform="translate(315.0 417.2) rotate(-49.1)" d="M-15.34 -6.41 L-17.11 -5.79 L-18.29 -3.96 L-18.88 -0.92 L-18.88 0.92 L-18.29 3.97 L-17.11 5.79 L-15.34 6.41 L-14.16 6.41 L-12.39 5.79 L-11.21 3.97 L-10.62 0.92 L-10.62 -0.92 L-11.21 -3.96 L-12.39 -5.79 L-14.16 -6.41 L-15.34 -6.41 M-5.90 5.19 L-6.49 5.79 L-5.90 6.41 L-5.31 5.79 L-5.90 5.19 M6.49 -2.13 L5.90 -0.30 L4.72 0.92 L2.95 1.53 L2.36 1.53 L0.59 0.92 L-0.59 -0.30 L-1.18 -2.13 L-1.18 -2.75 L-0.59 -4.58 L0.59 -5.79 L2.36 -6.41 L2.95 -6.41 L4.72 -5.79 L5.90 -4.58 L6.49 -2.13 L6.49 0.92 L5.90 3.97 L4.72 5.79 L2.95 6.41 L1.77 6.41 L-0.00 5.79 L-0.59 4.58 M17.70 -6.41 L11.80 -6.41 L11.21 -0.92 L11.80 -1.52 L13.57 -2.13 L15.34 -2.13 L17.11 -1.52 L18.29 -0.30 L18.88 1.53 L18.88 2.75 L18.29 4.58 L17.11 5.79 L15.34 6.41 L13.57 6.41 L11.80 5.79 L11.21 5.19 L10.62 3.97"/>
<path transform="translate(736.1 275.5) rotate(-4.3)" d="M-15.34 -6.41 L-17.11 -5.79 L-18.29 -3.96 L-18.88 -0.92 L-18.88 0.92 L-18.29 3.97 L-17.11 5.79 L-15.34 6.41 L-14.16 6.41 L-12.39 5.79 L-11.21 3.97 L-10.62 0.92 L-10.62 -0.92 L-11.21 -3.96 L-12.39 -5.79 L-14.16 -6.41 L-15.34 -6.41 M-5.90 5.19 L-6.49 5.79 L-5.90 6.41 L-5.31 5.79 L-5.90 5.19 M6.49 -2.13 L5.90 -0.30 L4.72 0.92 L2.95 1.53 L2.36 1.53 L0.59 0.92 L-0.59 -0.30 L-1.18 -2.13 L-1.18 -2.75 L-0.59 -4.58 L0.59 -5.79 L2.36 -6.41 L2.95 -6.41 L4.72 -5.79 L5.90 -4.58 L6.49 -2.13 L6.49 0.92 L5.90 3.97 L4.72 5.79 L2.95 6.41 L1.77 6.41 L-0.00 5.79 L-0.59 4.58 M17.70 -6.41 L11.80 -6.41 L11.21 -0.92 L11.80 -1.52 L13.57 -2.13 L15.34 -2.13 L17.11 -1.52 L18.29 -0.30 L18.88 1.53 L18.88 2.75 L18.29 4.58 L17.11 5.79 L15.34 6.41 L13.57 6.41 L11.80 5.79 L11.21 5.19 L10.62 3.97"/>
<path transform="translate(320.5 439.8) rotate(-53.0)" d="M-21.24 -6.41 L-23.01 -5.79 L-24.19 -3.96 L-24.78 -0.92 L-24.78 0.92 L-24.19 3.97 L-23.01 5.79 L-21.24 6.41 L-20.06 6.41 L-18.29 5.79 L-17.11 3.97 L-16.52 0.92 L-16.52 -0.92 L-17.11 -3.96 L-18.29 -5.79 L-20.06 -6.41 L-21.24 -6.41 M-11.80 5.19 L-12.39 5.79 L-11.80 6.41 L-11.21 5.79 L-11.80 5.19 M0.59 -2.13 L0.00 -0.30 L-1.18 0.92 L-2.95 1.53 L-3.54 1.53 L-5.31 0.92 L-6.49 -0.30 L-7.08 -2.13 L-7.08 -2.75 L-6.49 -4.58 L-5.31 -5.79 L-3.54 -6.41 L-2.95 -6.41 L-1.18 -5.79 L0.00 -4.58 L0.59 -2.13 L0.59 0.92 L0.00 3.97 L-1.18 5.79 L-2.95 6.41 L-4.13 6.41 L-5.90 5.79 L-6.49 4.58 M12.39 -2.13 L11.80 -0.30 L10.62 0.92 L8.85 1.53 L8.26 1.53 L6.49 0.92 L5.31 -0.30 L4.72 -2.13 L4.72 -2.75 L5.31 -4.58 L6.49 -5.79 L8.26 -6.41 L8.85 -6.41 L10.62 -5.79 L11.80 -4.58 L12.39 -2.13 L12.39 0.92 L11.80 3.97 L10.62 5.79 L8.85 6.41 L7.67 6.41 L5.90 5.79 L5.31 4.58 M24.19 -2.13 L23.60 -0.30 L22.42 0.92 L20.65 1.53 L20.06 1.53 L18.29 0.92 L17.11 -0.30 L16.52 -2.13 L16.52 -2.75 L17.11 -4.58 L18.29 -5.79 L20.06 -6.41 L20.65 -6.41 L22.42 -5.79 L23.60 -4.58 L24.19 -2.13 L24.19 0.92 L23.60 3.97 L22.42 5.79 L20.65 6.41 L19.47 6.41 L17.70 5.79 L17.11 4.58"/>
<path transform="translate(696.8 293.9) rotate(-5.1)" d="M-21.24 -6.41 L-23.01 -5.79 L-24.19 -3.96 L-24.78 -0.92 L-24.78 0.92 L-24.19 3.97 L-23.01 5.79 L-21.24 6.41 L-20.06 6.41 L-18.29 5.79 L-17.11 3.97 L-16.52 0.92 L-16.52 -0.92 L-17.11 -3.96 L-18.29 -5.79 L-20.06 -6.41 L-21.24 -6.41 M-11.80 5.19 L-12.39 5.79 L-11.80 6.41 L-11.21 5.79 L-11.80 5.19 M0.59 -2.13 L0.00 -0.30 L-1.18 0.92 L-2.95 1.53 L-3.54 1.53 L-5.31 0.92 L-6.49 -0.30 L-7.08 -2.13 L-7.08 -2.75 L-6.49 -4.58 L-5.31 -5.79 L-3.54 -6.41 L-2.95 -6.41 L-1.18 -5.79 L0.00 -4.58 L0.59 -2.13 L0.59 0.92 L0.00 3.97 L-1.18 5.79 L-2.95 6.41 L-4.13 6.41 L-5.90 5.79 L-6.49 4.58 M12.39 -2.13 L11.80 -0.30 L10.62 0.92 L8.85 1.53 L8.26 1.53 L6.49 0.92 L5.31 -0.30 L4.72 -2.13 L4.72 -2.75 L5.31 -4.58 L6.49 -5.79 L8.26 -6.41 L8.85 -6.41 L10.62 -5.79 L11.80 -4.58 L12.39 -2.13 L12.39 0.92 L11.80 3.97 L10.62 5.79 L8.85 6.41 L7.67 6.41 L5.90 5.79 L5.31 4.58 M24.19 -2.13 L23.60 -0.30 L22.42 0.92 L20.65 1.53 L20.06 1.53 L18.29 0.92 L17.11 -0.30 L16.52 -2.13 L16.52 -2.75 L17.11 -4.58 L18.29 -5.79 L20.06 -6.41 L20.65 -6.41 L22.42 -5.79 L23.60 -4.58 L24.19 -2.13 L24.19 0.92 L23.60 3.97 L22.42 5.79 L20.65 6.41 L19.47 6.41 L17.70 5.79 L17.11 4.58"/>
</g>
<line x1="400.8" y1="69.00" x2="400.8" y2="581.40" stroke="#000" stroke-width="2.3" stroke-dasharray="2 4.47"/>
<path d="M391.8 309.6 L409.4 327.2 M391.8 327.2 L409.4 309.6" stroke="#000" stroke-width="1.9" fill="none"/>
<g stroke="#000" stroke-width="1.9">
<rect x="669.9" y="81.25" width="48.3" height="21.2" fill="#b41a00"/>
<rect x="669.9" y="107.65" width="48.3" height="21.2" fill="#e58200"/>
<rect x="669.9" y="134.05" width="48.3" height="21.2" fill="#f9de00"/>
</g>
<g fill="none" stroke="#000" stroke-width="1.7" stroke-linecap="round" stroke-linejoin="round">
<path d="M737.30 85.43 L735.68 83.80 L733.24 82.98 L730.00 82.98 L727.56 83.80 L725.94 85.43 L725.94 87.06 L726.75 88.69 L727.56 89.50 L729.18 90.32 L734.06 91.95 L735.68 92.77 L736.49 93.58 L737.30 95.21 L737.30 97.66 L735.68 99.28 L733.24 100.10 L730.00 100.10 L727.56 99.28 L725.94 97.66 M742.99 82.98 L742.99 100.10 M742.99 82.98 L754.36 100.10 M754.36 82.98 L754.36 100.10"/>
<path d="M738.12 113.26 L737.30 111.63 L735.68 110.00 L734.06 109.19 L730.81 109.19 L729.18 110.00 L727.56 111.63 L726.75 113.26 L725.94 115.70 L725.94 119.78 L726.75 122.22 L727.56 123.86 L729.18 125.48 L730.81 126.30 L734.06 126.30 L735.68 125.48 L737.30 123.86 L738.12 122.22 M743.80 109.19 L743.80 126.30 M743.80 109.19 L750.30 126.30 M756.79 109.19 L750.30 126.30 M756.79 109.19 L756.79 126.30 M763.29 109.19 L763.29 126.30 M763.29 109.19 L770.60 109.19 L773.03 110.00 L773.84 110.81 L774.66 112.44 L774.66 114.08 L773.84 115.70 L773.03 116.52 L770.60 117.33 M763.29 117.33 L770.60 117.33 L773.03 118.15 L773.84 118.97 L774.66 120.59 L774.66 123.04 L773.84 124.67 L773.03 125.48 L770.60 126.30 L763.29 126.30"/>
<path d="M726.75 135.38 L726.75 152.50 M726.75 135.38 L734.06 135.38 L736.49 136.20 L737.30 137.01 L738.12 138.65 L738.12 140.28 L737.30 141.91 L736.49 142.72 L734.06 143.53 M726.75 143.53 L734.06 143.53 L736.49 144.35 L737.30 145.16 L738.12 146.79 L738.12 149.24 L737.30 150.87 L736.49 151.69 L734.06 152.50 L726.75 152.50 M747.86 135.38 L741.36 152.50 M747.86 135.38 L754.36 152.50 M743.80 146.79 L751.92 146.79 M762.48 135.38 L760.85 136.20 L759.23 137.83 L758.42 139.46 L757.60 141.91 L757.60 145.98 L758.42 148.43 L759.23 150.06 L760.85 151.69 L762.48 152.50 L765.72 152.50 L767.35 151.69 L768.97 150.06 L769.78 148.43 L770.60 145.98 L770.60 141.91 L769.78 139.46 L768.97 137.83 L767.35 136.20 L765.72 135.38 L762.48 135.38"/>
</g>
<g fill="none" stroke="#000" stroke-width="2" stroke-linecap="butt">
<rect x="174.20" y="54.95" width="604.25" height="526.45"/>
<path d="M199.0 55.0 v5.3 M199.0 581.4 v-5.3 M224.2 55.0 v5.3 M224.2 581.4 v-5.3 M249.4 55.0 v5.3 M249.4 581.4 v-5.3 M274.6 55.0 v10.5 M274.6 581.4 v-10.5 M299.8 55.0 v5.3 M299.8 581.4 v-5.3 M325.0 55.0 v5.3 M325.0 581.4 v-5.3 M350.2 55.0 v5.3 M350.2 581.4 v-5.3 M375.4 55.0 v5.3 M375.4 581.4 v-5.3 M400.6 55.0 v10.5 M400.6 581.4 v-10.5 M425.8 55.0 v5.3 M425.8 581.4 v-5.3 M451.0 55.0 v5.3 M451.0 581.4 v-5.3 M476.2 55.0 v5.3 M476.2 581.4 v-5.3 M501.4 55.0 v5.3 M501.4 581.4 v-5.3 M526.6 55.0 v10.5 M526.6 581.4 v-10.5 M551.8 55.0 v5.3 M551.8 581.4 v-5.3 M577.0 55.0 v5.3 M577.0 581.4 v-5.3 M602.2 55.0 v5.3 M602.2 581.4 v-5.3 M627.4 55.0 v5.3 M627.4 581.4 v-5.3 M652.6 55.0 v10.5 M652.6 581.4 v-10.5 M677.8 55.0 v5.3 M677.8 581.4 v-5.3 M703.0 55.0 v5.3 M703.0 581.4 v-5.3 M728.2 55.0 v5.3 M728.2 581.4 v-5.3 M753.4 55.0 v5.3 M753.4 581.4 v-5.3 M174.2 563.8 h6.3 M778.5 563.8 h-6.3 M174.2 546.3 h6.3 M778.5 546.3 h-6.3 M174.2 528.7 h6.3 M778.5 528.7 h-6.3 M174.2 511.2 h6.3 M778.5 511.2 h-6.3 M174.2 493.6 h12.2 M778.5 493.6 h-12.2 M174.2 476.1 h6.3 M778.5 476.1 h-6.3 M174.2 458.6 h6.3 M778.5 458.6 h-6.3 M174.2 441.0 h6.3 M778.5 441.0 h-6.3 M174.2 423.5 h6.3 M778.5 423.5 h-6.3 M174.2 405.9 h12.2 M778.5 405.9 h-12.2 M174.2 388.4 h6.3 M778.5 388.4 h-6.3 M174.2 370.8 h6.3 M778.5 370.8 h-6.3 M174.2 353.3 h6.3 M778.5 353.3 h-6.3 M174.2 335.7 h6.3 M778.5 335.7 h-6.3 M174.2 318.2 h12.2 M778.5 318.2 h-12.2 M174.2 300.6 h6.3 M778.5 300.6 h-6.3 M174.2 283.1 h6.3 M778.5 283.1 h-6.3 M174.2 265.5 h6.3 M778.5 265.5 h-6.3 M174.2 248.0 h6.3 M778.5 248.0 h-6.3 M174.2 230.4 h12.2 M778.5 230.4 h-12.2 M174.2 212.9 h6.3 M778.5 212.9 h-6.3 M174.2 195.3 h6.3 M778.5 195.3 h-6.3 M174.2 177.8 h6.3 M778.5 177.8 h-6.3 M174.2 160.2 h6.3 M778.5 160.2 h-6.3 M174.2 142.7 h12.2 M778.5 142.7 h-12.2 M174.2 125.1 h6.3 M778.5 125.1 h-6.3 M174.2 107.6 h6.3 M778.5 107.6 h-6.3 M174.2 90.0 h6.3 M778.5 90.0 h-6.3 M174.2 72.5 h6.3 M778.5 72.5 h-6.3"/>
</g>
<g fill="none" stroke="#000" stroke-width="1.5" stroke-linecap="round" stroke-linejoin="round">
<path d="M259.74 603.93 L257.01 604.85 L255.19 607.62 L254.28 612.25 L254.28 615.02 L255.19 619.65 L257.01 622.43 L259.74 623.35 L261.56 623.35 L264.29 622.43 L266.11 619.65 L267.02 615.02 L267.02 612.25 L266.11 607.62 L264.29 604.85 L261.56 603.93 L259.74 603.93 M274.30 621.50 L273.39 622.43 L274.30 623.35 L275.21 622.43 L274.30 621.50 M292.50 603.93 L283.40 603.93 L282.49 612.25 L283.40 611.33 L286.13 610.40 L288.86 610.40 L291.59 611.33 L293.41 613.18 L294.32 615.95 L294.32 617.80 L293.41 620.58 L291.59 622.43 L288.86 623.35 L286.13 623.35 L283.40 622.43 L282.49 621.50 L281.58 619.65"/>
<path d="M383.01 607.62 L384.83 606.70 L387.56 603.93 L387.56 623.35 M400.30 621.50 L399.39 622.43 L400.30 623.35 L401.21 622.43 L400.30 621.50 M413.04 603.93 L410.31 604.85 L408.49 607.62 L407.58 612.25 L407.58 615.02 L408.49 619.65 L410.31 622.43 L413.04 623.35 L414.86 623.35 L417.59 622.43 L419.41 619.65 L420.32 615.02 L420.32 612.25 L419.41 607.62 L417.59 604.85 L414.86 603.93 L413.04 603.93"/>
<path d="M509.01 607.62 L510.83 606.70 L513.56 603.93 L513.56 623.35 M526.30 621.50 L525.39 622.43 L526.30 623.35 L527.21 622.43 L526.30 621.50 M544.50 603.93 L535.40 603.93 L534.49 612.25 L535.40 611.33 L538.13 610.40 L540.86 610.40 L543.59 611.33 L545.41 613.18 L546.32 615.95 L546.32 617.80 L545.41 620.58 L543.59 622.43 L540.86 623.35 L538.13 623.35 L535.40 622.43 L534.49 621.50 L533.58 619.65"/>
<path d="M633.19 608.55 L633.19 607.62 L634.10 605.77 L635.01 604.85 L636.83 603.93 L640.47 603.93 L642.29 604.85 L643.20 605.77 L644.11 607.62 L644.11 609.48 L643.20 611.33 L641.38 614.10 L632.28 623.35 L645.02 623.35 M652.30 621.50 L651.39 622.43 L652.30 623.35 L653.21 622.43 L652.30 621.50 M665.04 603.93 L662.31 604.85 L660.49 607.62 L659.58 612.25 L659.58 615.02 L660.49 619.65 L662.31 622.43 L665.04 623.35 L666.86 623.35 L669.59 622.43 L671.41 619.65 L672.32 615.02 L672.32 612.25 L671.41 607.62 L669.59 604.85 L666.86 603.93 L665.04 603.93"/>
<path d="M759.19 608.55 L759.19 607.62 L760.10 605.77 L761.01 604.85 L762.83 603.93 L766.47 603.93 L768.29 604.85 L769.20 605.77 L770.11 607.62 L770.11 609.48 L769.20 611.33 L767.38 614.10 L758.28 623.35 L771.02 623.35 M778.30 621.50 L777.39 622.43 L778.30 623.35 L779.21 622.43 L778.30 621.50 M796.50 603.93 L787.40 603.93 L786.49 612.25 L787.40 611.33 L790.13 610.40 L792.86 610.40 L795.59 611.33 L797.41 613.18 L798.32 615.95 L798.32 617.80 L797.41 620.58 L795.59 622.43 L792.86 623.35 L790.13 623.35 L787.40 622.43 L786.49 621.50 L785.58 619.65"/>
<path d="M124.20 58.68 L126.05 57.75 L128.83 54.98 L128.83 74.40 M141.78 72.55 L140.85 73.48 L141.78 74.40 L142.70 73.48 L141.78 72.55 M160.28 54.98 L151.03 54.98 L150.10 63.30 L151.03 62.38 L153.80 61.45 L156.58 61.45 L159.35 62.38 L161.20 64.23 L162.12 67.00 L162.12 68.85 L161.20 71.62 L159.35 73.48 L156.58 74.40 L153.80 74.40 L151.03 73.48 L150.10 72.55 L149.18 70.70"/>
<path d="M124.20 138.27 L126.05 137.34 L128.83 134.57 L128.83 153.99 M141.78 152.14 L140.85 153.07 L141.78 153.99 L142.70 153.07 L141.78 152.14 M154.72 134.57 L151.95 135.49 L150.10 138.27 L149.18 142.89 L149.18 145.67 L150.10 150.29 L151.95 153.07 L154.72 153.99 L156.58 153.99 L159.35 153.07 L161.20 150.29 L162.12 145.67 L162.12 142.89 L161.20 138.27 L159.35 135.49 L156.58 134.57 L154.72 134.57"/>
<path d="M126.98 222.31 L124.20 223.23 L122.35 226.01 L121.43 230.63 L121.43 233.41 L122.35 238.03 L124.20 240.81 L126.98 241.73 L128.83 241.73 L131.60 240.81 L133.45 238.03 L134.38 233.41 L134.38 230.63 L133.45 226.01 L131.60 223.23 L128.83 222.31 L126.98 222.31 M141.78 239.88 L140.85 240.81 L141.78 241.73 L142.70 240.81 L141.78 239.88 M160.28 222.31 L151.03 222.31 L150.10 230.63 L151.03 229.71 L153.80 228.78 L156.58 228.78 L159.35 229.71 L161.20 231.56 L162.12 234.33 L162.12 236.18 L161.20 238.96 L159.35 240.81 L156.58 241.73 L153.80 241.73 L151.03 240.81 L150.10 239.88 L149.18 238.03"/>
<path d="M126.98 310.05 L124.20 310.97 L122.35 313.75 L121.43 318.37 L121.43 321.15 L122.35 325.77 L124.20 328.55 L126.98 329.47 L128.83 329.47 L131.60 328.55 L133.45 325.77 L134.38 321.15 L134.38 318.37 L133.45 313.75 L131.60 310.97 L128.83 310.05 L126.98 310.05 M141.78 327.62 L140.85 328.55 L141.78 329.47 L142.70 328.55 L141.78 327.62 M154.72 310.05 L151.95 310.97 L150.10 313.75 L149.18 318.37 L149.18 321.15 L150.10 325.77 L151.95 328.55 L154.72 329.47 L156.58 329.47 L159.35 328.55 L161.20 325.77 L162.12 321.15 L162.12 318.37 L161.20 313.75 L159.35 310.97 L156.58 310.05 L154.72 310.05"/>
<path d="M98.30 408.89 L114.95 408.89 M126.98 397.79 L124.20 398.71 L122.35 401.49 L121.43 406.11 L121.43 408.89 L122.35 413.51 L124.20 416.29 L126.98 417.21 L128.83 417.21 L131.60 416.29 L133.45 413.51 L134.38 408.89 L134.38 406.11 L133.45 401.49 L131.60 398.71 L128.83 397.79 L126.98 397.79 M141.78 415.36 L140.85 416.29 L141.78 417.21 L142.70 416.29 L141.78 415.36 M160.28 397.79 L151.03 397.79 L150.10 406.11 L151.03 405.19 L153.80 404.26 L156.58 404.26 L159.35 405.19 L161.20 407.04 L162.12 409.81 L162.12 411.66 L161.20 414.44 L159.35 416.29 L156.58 417.21 L153.80 417.21 L151.03 416.29 L150.10 415.36 L149.18 413.51"/>
<path d="M98.30 496.62 L114.95 496.62 M124.20 489.22 L126.05 488.30 L128.83 485.52 L128.83 504.95 M141.78 503.10 L140.85 504.02 L141.78 504.95 L142.70 504.02 L141.78 503.10 M154.72 485.52 L151.95 486.45 L150.10 489.22 L149.18 493.85 L149.18 496.62 L150.10 501.25 L151.95 504.02 L154.72 504.95 L156.58 504.95 L159.35 504.02 L161.20 501.25 L162.12 496.62 L162.12 493.85 L161.20 489.22 L159.35 486.45 L156.58 485.52 L154.72 485.52"/>
<path d="M98.30 573.38 L114.95 573.38 M124.20 565.98 L126.05 565.05 L128.83 562.28 L128.83 581.70 M141.78 579.85 L140.85 580.78 L141.78 581.70 L142.70 580.78 L141.78 579.85 M160.28 562.28 L151.03 562.28 L150.10 570.60 L151.03 569.68 L153.80 568.75 L156.58 568.75 L159.35 569.68 L161.20 571.53 L162.12 574.30 L162.12 576.15 L161.20 578.93 L159.35 580.78 L156.58 581.70 L153.80 581.70 L151.03 580.78 L150.10 579.85 L149.18 578.00"/>
<path d="M480.38 646.40 L480.38 665.30 M480.38 649.10 L478.52 647.30 L476.68 646.40 L473.90 646.40 L472.05 647.30 L470.20 649.10 L469.27 651.80 L469.27 653.60 L470.20 656.30 L472.05 658.10 L473.90 659.00 L476.68 659.00 L478.52 658.10 L480.38 656.30"/>
<path transform="translate(69.25 319.1) rotate(-90)" d="M-5.02 -12.18 L-5.02 0.00 M-5.02 -8.70 L-2.28 -11.31 L-0.46 -12.18 L2.28 -12.18 L4.10 -11.31 L5.02 -8.70 L5.02 0.00"/>
</g>
</svg></body></html>
